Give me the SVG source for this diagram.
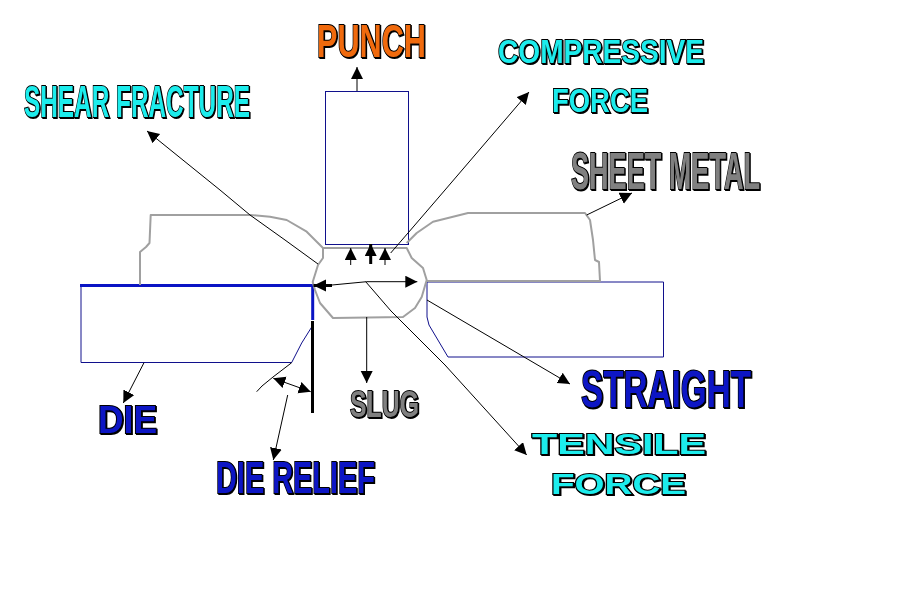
<svg xmlns="http://www.w3.org/2000/svg" width="919" height="615" viewBox="0 0 919 615">
<style>
.lbl{font-family:"Liberation Sans",Arial,sans-serif;font-weight:700;stroke:#000;stroke-width:2;paint-order:stroke;filter:url(#sh)}
.cy{fill:#1fecec}.bl{fill:#0a14c4}.gr{fill:#808080}.or{fill:#f06a10}
.navy{fill:none;stroke:#10108c;stroke-width:1}
.blue{fill:none;stroke:#0a14c4;stroke-width:3}
.metal{fill:none;stroke:#a0a0a0;stroke-width:2;stroke-linejoin:round}
.arr{fill:none;stroke:#000;stroke-width:1;marker-end:url(#a)}
.dbl{marker-start:url(#a)}
.thk{stroke-width:3}
</style>
<defs>
<marker id="a" markerUnits="userSpaceOnUse" markerWidth="14" markerHeight="14" refX="12" refY="6" orient="auto-start-reverse"><path d="M0 0L12 6L0 12Z" fill="#000"/></marker>
<filter id="sh" filterUnits="userSpaceOnUse" x="0" y="0" width="919" height="615"><feDropShadow dx="1" dy="1" stdDeviation="0" flood-color="#000"/></filter>
</defs>
<rect width="919" height="615" fill="#fff"/>
<g id="punch"><rect class="navy" x="325.5" y="91.5" width="83" height="153"/></g>
<g id="die-left">
<path class="navy" d="M81 286V362.5H291.7L301.7 343L311.7 327"/>
<path class="blue" d="M80 285.5H312.7V320"/>
<path d="M312.5 321V413" stroke="#000" stroke-width="3" fill="none"/>
</g>
<g id="die-right"><path class="navy" d="M427 282H663.500V357H450L448 357L429 325L427 317Z"/></g>
<g id="sheet-left"><path class="metal" d="M140 285V252L146 247L149.5 243L150.7 215H250L270 216.7L286.7 220L306.7 231.7L323 248"/></g>
<g id="sheet-right"><path class="metal" d="M406.7 243L416.7 233L433 221.7L468 213H585L590 220L593 240L595 260L599 262L600 281H427"/></g>
<g id="slug"><path class="metal" d="M323 248H406.7L411.7 258L423 268L426.7 280L421.7 297L415 308L403 317L333 318L320 303L315 290L312.7 282L318 265L323 258Z"/></g>
<g id="connectors">
<path class="arr" d="M357 91V67"/>
<path class="arr" d="M318 264L285 240L250 215L220 190L147 131"/>
<path class="arr" d="M390.7 253L408 233L445 190L529 92"/>
<path class="arr" d="M586.7 215L632 193"/>
<path class="arr" d="M427 300L570 384"/>
<path class="arr" d="M365.7 281.7L391 311L420 340L445 365L526.7 455"/>
<path class="arr" d="M366.7 317V383"/>
<path class="arr" d="M332 285L366.7 281.7H417.3"/>
<path d="M332 285.5H313.5" fill="none" stroke="#000" stroke-width="3"/>
<path d="M313.5 285.5L326 279.5V291.5Z" fill="#000"/>
<path class="arr" d="M350.7 265V248"/>
<path class="arr thk" d="M370.7 264V244"/>
<path class="arr" d="M385 265V248"/>
<path class="arr" d="M144 362.7L123.3 403"/>
<path class="arr dbl" d="M273.3 378.3L310.7 391.7"/>
<path d="M291.7 362.7L273 377L262 386L256.7 391.7" fill="none" stroke="#000"/>
<path class="arr" d="M287.7 395L273.3 460"/>
</g>
<g id="label-punch"><text class="lbl or" x="317" y="57" font-size="46" textLength="109" lengthAdjust="spacingAndGlyphs">PUNCH</text></g>
<g id="label-shear-fracture"><text class="lbl cy" x="24" y="117" font-size="44" textLength="226" lengthAdjust="spacingAndGlyphs">SHEAR FRACTURE</text></g>
<g id="label-compressive-force">
<text class="lbl cy" x="498" y="63" font-size="34" textLength="206" lengthAdjust="spacingAndGlyphs">COMPRESSIVE</text>
<text class="lbl cy" x="552" y="111.500" font-size="34" textLength="96" lengthAdjust="spacingAndGlyphs">FORCE</text>
</g>
<g id="label-sheet-metal"><text class="lbl gr" x="571" y="189" font-size="51" textLength="189" lengthAdjust="spacingAndGlyphs">SHEET METAL</text></g>
<g id="label-straight"><text class="lbl bl" x="581" y="407" font-size="51" textLength="170" lengthAdjust="spacingAndGlyphs">STRAIGHT</text></g>
<g id="label-tensile-force">
<text class="lbl cy" x="532" y="454" font-size="30" textLength="174" lengthAdjust="spacingAndGlyphs">TENSILE</text>
<text class="lbl cy" x="551" y="494" font-size="29" textLength="135" lengthAdjust="spacingAndGlyphs">FORCE</text>
</g>
<g id="label-die"><text class="lbl bl" x="98" y="433" font-size="38" textLength="59" lengthAdjust="spacingAndGlyphs">DIE</text></g>
<g id="label-die-relief"><text class="lbl bl" x="216" y="493" font-size="45" textLength="159" lengthAdjust="spacingAndGlyphs">DIE RELIEF</text></g>
<g id="label-slug"><text class="lbl gr" x="350" y="417" font-size="37" textLength="69" lengthAdjust="spacingAndGlyphs">SLUG</text></g>
</svg>
